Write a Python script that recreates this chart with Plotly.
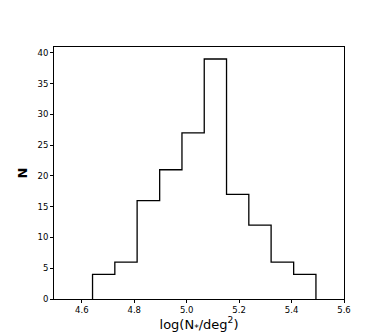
import plotly.graph_objects as go

# Histogram data
bin_edges = [4.641, 4.726, 4.811, 4.897, 4.982, 5.067, 5.152, 5.237, 5.322, 5.408, 5.493]
counts = [4, 6, 16, 21, 27, 39, 17, 12, 6, 4]

x_ticks = [4.6, 4.8, 5.0, 5.2, 5.4, 5.6]
y_ticks = [0, 5, 10, 15, 20, 25, 30, 35, 40]

# step outline (histtype='step')
xs = [bin_edges[0]] + bin_edges
ys = [0] + counts + [0]

fig = go.Figure()
fig.add_trace(go.Scatter(
    x=xs, y=ys, mode="lines",
    line=dict(color="black", width=1.3, shape="hv"),
    hoverinfo="skip", showlegend=False,
))

axis_common = dict(
    showgrid=False, zeroline=False, showline=True, linecolor="black",
    linewidth=1, mirror=True, ticks="outside", ticklen=3, tickwidth=1,
    tickcolor="black", tickfont=dict(family="DejaVu Sans", size=8.5, color="black"),
)

fig.update_layout(
    width=374, height=332,
    margin=dict(l=46, r=38, t=39, b=37),
    paper_bgcolor="white", plot_bgcolor="white",
    xaxis=dict(range=[4.494, 5.6], tickvals=x_ticks,
               ticktext=[f"{v:.1f}" for v in x_ticks],
               title=dict(text="log(N<sub>*</sub>/deg<sup>2</sup>)",
                          font=dict(family="DejaVu Sans", size=13, color="black"),
                          standoff=4),
               **axis_common),
    yaxis=dict(range=[0, 40.95], tickvals=y_ticks,
               title=dict(text="<b>N</b>",
                          font=dict(family="DejaVu Sans", size=13, color="black"),
                          standoff=6),
               **axis_common),
)

fig.write_html("out.html")
